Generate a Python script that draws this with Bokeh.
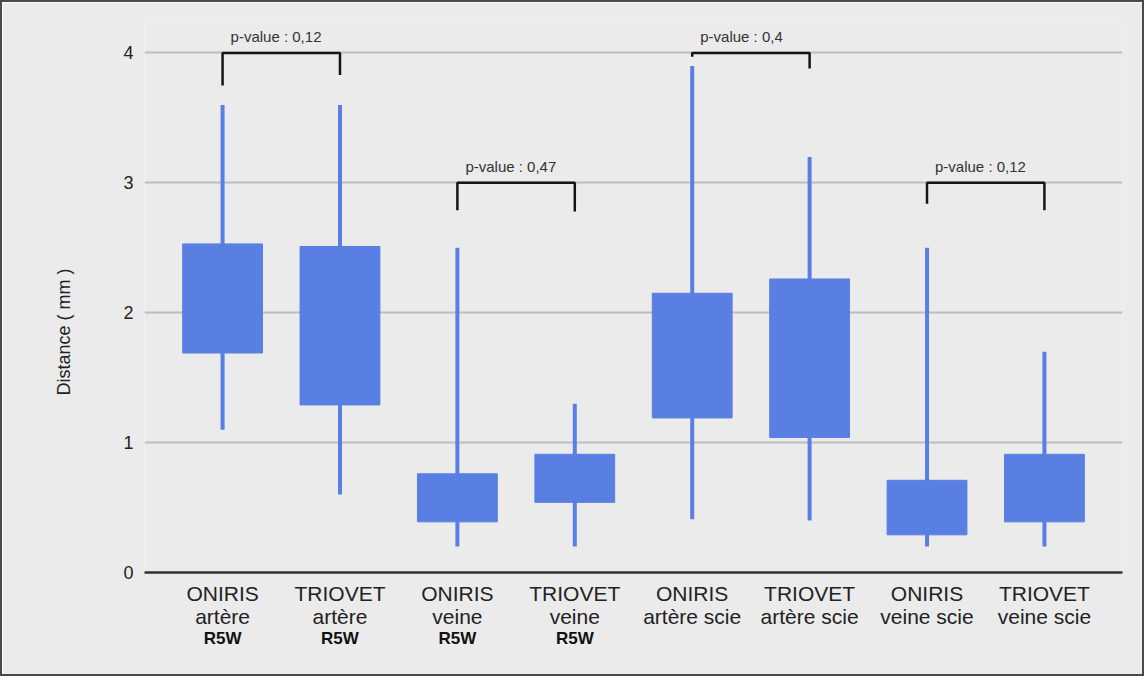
from bokeh.plotting import figure
from bokeh.models import Range1d, FixedTicker, LinearAxis, ColumnDataSource, Title
from bokeh.core.properties import value
from bokeh.embed import file_html
from bokeh.resources import INLINE

# ---- data ----
groups = ["ONIRIS", "TRIOVET", "ONIRIS", "TRIOVET", "ONIRIS", "TRIOVET", "ONIRIS", "TRIOVET"]
sites = ["artère", "artère", "veine", "veine", "artère scie", "artère scie", "veine scie", "veine scie"]
tags = ["R5W", "R5W", "R5W", "R5W", "", "", "", ""]
lower = [1.10, 0.60, 0.20, 0.20, 0.41, 0.40, 0.20, 0.20]
q1 = [1.69, 1.29, 0.39, 0.54, 1.19, 1.04, 0.29, 0.39]
q3 = [2.53, 2.51, 0.76, 0.91, 2.15, 2.26, 0.71, 0.91]
upper = [3.60, 3.60, 2.50, 1.30, 3.90, 3.20, 2.50, 1.70]
y_ticks = [0, 1, 2, 3, 4]
y_title = "Distance ( mm )"

pair_left = [0, 2, 4, 6]
pair_right = [1, 3, 5, 7]
bracket_top = [4.0, 3.0, 4.0, 3.0]
left_end = [3.75, 2.79, 3.97, 2.84]
right_end = [3.83, 2.78, 3.88, 2.79]
p_labels = ["p-value : 0,12", "p-value : 0,47", "p-value : 0,4", "p-value : 0,12"]

FONT = "Liberation Sans"
BLUE = "#5a7fe3"
BG = "#ebebeb"

xs = list(range(len(groups)))

p = figure(width=1144, height=676, output_backend="svg", toolbar_location=None,
           x_range=Range1d(-0.665, 7.665), y_range=Range1d(0, 4.25),
           min_border_left=142, min_border_right=24, min_border_top=18, min_border_bottom=106)
p.background_fill_color = BG
p.border_fill_color = BG
p.outline_line_color = None
p.styles = {"border": "2px solid #4a4a4a"}

src = ColumnDataSource(dict(x=xs, lower=lower, q1=q1, q3=q3, upper=upper))
p.segment(x0="x", y0="lower", x1="x", y1="upper", source=src, line_color=BLUE, line_width=4)
p.vbar(x="x", bottom="q1", top="q3", width=0.68, source=src, fill_color=BLUE, line_color=BLUE, line_width=1)

# brackets
bx, by = [], []
for l, r, t, le, re_ in zip(pair_left, pair_right, bracket_top, left_end, right_end):
    bx.append([l, l, r, r])
    by.append([le, t, t, re_])
p.multi_line(xs=bx, ys=by, line_color="#151515", line_width=2.5)
p.text(x=pair_left, y=[t + 0.125 for t in bracket_top], text=p_labels,
       text_font=value(FONT), text_font_size="15px", text_color="#333333",
       text_align="left", text_baseline="alphabetic", x_offset=8)

# y axis
p.yaxis.ticker = FixedTicker(ticks=y_ticks)
p.yaxis.axis_line_color = None
p.yaxis.major_tick_line_color = None
p.yaxis.major_tick_out = 0
p.yaxis.major_tick_in = 0
p.yaxis.minor_tick_line_color = None
p.yaxis.major_label_standoff = 11
p.yaxis.major_label_text_font = FONT
p.yaxis.major_label_text_font_size = "18px"
p.yaxis.major_label_text_color = "#222222"

ytitle = Title(text=y_title, align="left", offset=177, standoff=94,
               text_font=FONT, text_font_size="18px", text_font_style="normal",
               text_color="#222222")
p.add_layout(ytitle, "left")

p.ygrid.ticker = FixedTicker(ticks=y_ticks)
p.ygrid.grid_line_color = "#bdbdbd"
p.ygrid.grid_line_width = 2
p.xgrid.grid_line_color = None

# x axis (two lines) + bold tag axis
p.xaxis.ticker = FixedTicker(ticks=xs)
p.xaxis.major_label_overrides = {i: f"{g}\n{s}" for i, g, s in zip(xs, groups, sites)}
p.xaxis.axis_line_color = "#333333"
p.xaxis.axis_line_width = 2.5
p.xaxis.major_tick_line_color = None
p.xaxis.major_tick_out = 0
p.xaxis.major_tick_in = 0
p.xaxis.minor_tick_line_color = None
p.xaxis.major_label_standoff = 9
p.xaxis.major_label_text_font = FONT
p.xaxis.major_label_text_font_size = "21px"
p.xaxis.major_label_text_line_height = 1.0
p.xaxis.major_label_text_color = "#222222"

ax2 = LinearAxis(ticker=FixedTicker(ticks=xs),
                 major_label_overrides={i: t for i, t in zip(xs, tags)},
                 axis_line_color=None, major_tick_line_color=None, minor_tick_line_color=None,
                 major_tick_out=0, major_tick_in=0,
                 major_label_standoff=-2, major_label_text_font=FONT,
                 major_label_text_font_size="17px", major_label_text_font_style="bold",
                 major_label_text_color="#111111")
p.add_layout(ax2, "below")

open("out.html", "w").write(file_html(p, INLINE))
